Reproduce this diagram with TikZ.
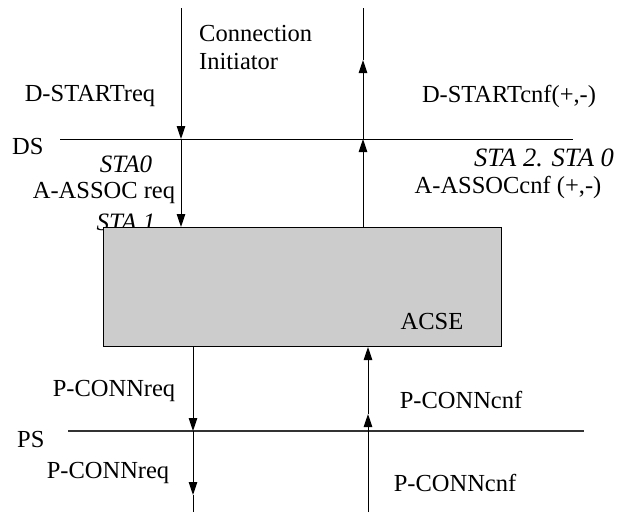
\documentclass[tikz,border=0pt]{standalone}
\usepackage{fontspec}
\setmainfont{Liberation Serif}
\usetikzlibrary{arrows.meta}
\begin{document}
\begin{tikzpicture}[x=1pt,y=-1pt,
  lbl/.style={inner sep=0pt,font=\fontsize{24.5}{28}\selectfont},
  ilbl/.style={lbl,font=\fontsize{25}{28}\selectfont\itshape},
  flow/.style={line width=1pt,-{Triangle[length=13pt,width=8.5pt]}},
  plain/.style={line width=1pt},
  layer/.style={line width=1pt},
  entity/.style={draw,line width=1pt,fill=black!20,inner sep=0pt}]
\useasboundingbox (0,0) rectangle (624,512);

% service boundaries
\node[lbl,anchor=west] (ds) at (12,147) {DS};
\coordinate (dsL) at (60,139);
\coordinate (dsR) at (573,139);
\draw[layer] (dsL) -- (dsR);
\node[lbl,anchor=west] (ps) at (17,440) {PS};
\coordinate (psL) at (68,431);
\coordinate (psR) at (584,431);
\draw[layer,line width=1.7pt,black!80] (psL) -- (psR);

% labels
\node[lbl,anchor=west,align=left] (init) at (199,48) {Connection\\[0pt]Initiator};
\node[lbl] (dreq) at (90,96) {D-STARTreq};
\node[lbl] (dcnf) at (509,96) {D-STARTcnf(+,-)};
\node[ilbl] (sta0) at (126,164) {STA0};
\node[lbl] (areq) at (104,193) {A-ASSOC req};
\node[ilbl] (sta1) at (126,222) {STA 1};
\node[ilbl,font=\fontsize{26.5}{28}\selectfont\itshape] (sta20) at (544,158) {STA 2. STA 0};
\node[lbl] (acnf) at (508,187) {A-ASSOCcnf (+,-)};
\node[lbl] (preq1) at (114,391) {P-CONNreq};
\node[lbl] (pcnf1) at (461,400) {P-CONNcnf};
\node[lbl] (preq2) at (108,473) {P-CONNreq};
\node[lbl] (pcnf2) at (455,483) {P-CONNcnf};

% ACSE entity
\node[entity,minimum width=398pt,minimum height=119pt,anchor=north west] (acse) at (103,227) {};
\node[lbl] (acsetxt) at (432,322) {ACSE};

% request path (left)
\coordinate (a0) at (181,8);
\coordinate (a1) at (181,139);
\coordinate (a2) at (acse.north -| a1);
\draw[flow] (a0) -- (a1);
\draw[flow] (a1) -- (a2);
\coordinate (b0) at (acse.south -| 193,0);
\coordinate (b1) at (193,431);
\coordinate (b2) at (193,495);
\coordinate (b3) at (193,512);
\draw[flow] (b0) -- (b1);
\draw[flow] (b1) -- (b2);
\draw[plain] (b2) -- (b3);

% confirmation path (right)
\coordinate (c0) at (acse.north -| 363,0);
\coordinate (c1) at (363,139);
\coordinate (c2) at (363,60);
\coordinate (c3) at (363,8);
\draw[flow] (c0) -- (c1);
\draw[flow] (c1) -- (c2);
\draw[plain] (c2) -- (c3);
\coordinate (d0) at (368,512);
\coordinate (d1) at (368,414);
\coordinate (d2) at (acse.south -| 368,0);
\draw[flow] (d0) -- (d1);
\draw[flow] (d1) -- (d2);
\end{tikzpicture}
\end{document}
